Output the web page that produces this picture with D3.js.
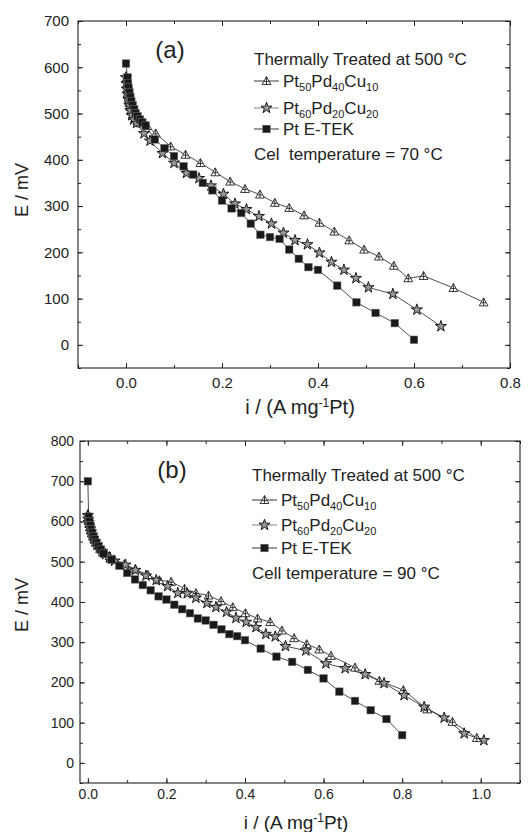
<!DOCTYPE html>
<html>
<head>
<meta charset="utf-8">
<script src="https://d3js.org/d3.v7.min.js"></script>
<style>
body { margin: 0; background: #fff; }
svg text { font-family: "Liberation Sans", Arial, sans-serif; fill: #222; }
</style>
</head>
<body>
<svg width="532" height="832"></svg>
<script>
// ---- panel (a): cell at 70 °C ----
var aTriI = [0, 0.001, 0.002, 0.003, 0.005, 0.007, 0.009, 0.012, 0.015, 0.019, 0.024, 0.03, 0.044, 0.062, 0.093, 0.124, 0.155, 0.186, 0.217, 0.248, 0.279, 0.31, 0.34, 0.371, 0.403, 0.434, 0.465, 0.496, 0.527, 0.558, 0.588, 0.62, 0.682, 0.745];
var aTriE = [575, 563, 553, 543, 533, 523, 514, 505, 497, 490, 484, 479, 473, 457, 429, 411, 393, 373, 353, 337, 325, 307, 296, 280, 264, 245, 226, 206, 191, 171, 144, 149, 123, 92];
var aStarI = [0, 0.001, 0.002, 0.003, 0.005, 0.007, 0.009, 0.012, 0.016, 0.022, 0.0375, 0.05, 0.076, 0.1, 0.126, 0.152, 0.177, 0.203, 0.227, 0.251, 0.277, 0.303, 0.328, 0.352, 0.378, 0.403, 0.428, 0.454, 0.479, 0.505, 0.556, 0.606, 0.656];
var aStarE = [578, 565, 553, 542, 530, 518, 507, 496, 487, 479, 457, 441, 414, 393, 371, 360, 344, 326, 305, 293, 278, 262, 242, 226, 217, 199, 179, 162, 144, 124, 110, 76, 40];
var aSqI = [0, 0.003, 0.004, 0.005, 0.007, 0.009, 0.011, 0.014, 0.017, 0.02, 0.024, 0.029, 0.034, 0.041, 0.06, 0.08, 0.1, 0.12, 0.14, 0.16, 0.18, 0.2, 0.22, 0.24, 0.26, 0.28, 0.3, 0.32, 0.34, 0.36, 0.38, 0.4, 0.44, 0.48, 0.52, 0.56, 0.6];
var aSqE = [608, 578, 566, 556, 546, 536, 527, 518, 509, 501, 494, 487, 481, 474, 444, 425, 408, 386, 368, 350, 334, 312, 295, 285, 262, 238, 233, 229, 206, 186, 168, 162, 128, 92, 69, 47, 11];

// ---- panel (b): cell at 90 °C ----
var bTriI = [0, 0.001, 0.002, 0.004, 0.006, 0.008, 0.011, 0.014, 0.018, 0.023, 0.029, 0.036, 0.045, 0.055, 0.067, 0.093, 0.121, 0.153, 0.182, 0.212, 0.246, 0.275, 0.307, 0.339, 0.369, 0.401, 0.432, 0.464, 0.494, 0.525, 0.557, 0.589, 0.619, 0.68, 0.742, 0.803, 0.864, 0.928, 0.99];
var bTriE = [618, 610, 602, 594, 586, 578, 570, 562, 554, 546, 538, 530, 522, 514, 506, 494, 481, 467, 454, 450, 433, 422, 416, 402, 387, 372, 359, 350, 329, 310, 295, 282, 266, 237, 204, 181, 133, 102, 62];
var bStarI = [0, 0.001, 0.002, 0.004, 0.006, 0.008, 0.011, 0.014, 0.018, 0.023, 0.029, 0.036, 0.045, 0.055, 0.068, 0.096, 0.121, 0.148, 0.174, 0.203, 0.229, 0.253, 0.275, 0.303, 0.326, 0.353, 0.377, 0.403, 0.428, 0.453, 0.477, 0.503, 0.555, 0.606, 0.655, 0.706, 0.754, 0.805, 0.856, 0.907, 0.958, 1.008];
var bStarE = [615, 606, 598, 590, 582, 574, 566, 558, 550, 542, 534, 526, 518, 510, 502, 492, 479, 465, 454, 439, 422, 421, 410, 397, 387, 375, 360, 350, 337, 320, 314, 290, 279, 247, 235, 220, 198, 168, 139, 112, 73, 56];
var bSqI = [0, 0.002, 0.004, 0.006, 0.008, 0.011, 0.014, 0.018, 0.022, 0.027, 0.033, 0.04, 0.06, 0.08, 0.1, 0.12, 0.14, 0.16, 0.18, 0.2, 0.22, 0.24, 0.26, 0.28, 0.3, 0.32, 0.34, 0.36, 0.38, 0.4, 0.44, 0.48, 0.52, 0.56, 0.6, 0.64, 0.68, 0.72, 0.76, 0.8];
var bSqE = [700, 612, 600, 590, 581, 572, 563, 555, 547, 539, 530, 520, 505, 490, 472, 456, 442, 429, 414, 406, 393, 382, 372, 359, 354, 343, 332, 320, 315, 305, 284, 264, 251, 231, 210, 177, 154, 131, 109, 69];

// tick labels
var aXTicks = [0, 0.2, 0.4, 0.6, 0.8];
var aYTicks = [0, 100, 200, 300, 400, 500, 600, 700];
var bXTicks = [0, 0.2, 0.4, 0.6, 0.8, 1.0];
var bYTicks = [0, 100, 200, 300, 400, 500, 600, 700, 800];

var svg = d3.select("svg");

function triPath(h) {
  var w = h * 1.0, b = h * 0.8;
  return "M0," + (-h) + "L" + w + "," + b + "L" + (-w) + "," + b + "Z" +
    "M0," + (-h) + "L0," + b + "M" + (-w * 0.55) + "," + (h * 0.1) + "L" + (w * 0.55) + "," + (h * 0.1);
}
var starPath = d3.symbol(d3.symbolStar).size(38)();

function drawMarker(g, kind) {
  if (kind == "tri") {
    g.append("path").attr("d", triPath(4.4)).attr("fill", "#fff").attr("stroke", "#222").attr("stroke-width", 0.9);
  } else if (kind == "star") {
    g.append("path").attr("d", starPath).attr("fill", "#999").attr("stroke", "#1a1a1a").attr("stroke-width", 1);
  } else {
    g.append("rect").attr("x", -3.8).attr("y", -3.8).attr("width", 7.6).attr("height", 7.6)
      .attr("fill", "#1a1a1a").attr("stroke", "#777").attr("stroke-width", 0.5);
  }
}

function panel(o) {
  var x = d3.scaleLinear().domain(o.xDom).range([o.l, o.r]),
      y = d3.scaleLinear().domain(o.yDom).range([o.b, o.t]);
  var g = svg.append("g");

  var xMinor = d3.range(Math.ceil(o.xDom[0] * 10), Math.floor(o.xDom[1] * 10) + 1).map(function(v) { return v / 10; });
  var yMinor = d3.range(Math.ceil(o.yDom[0] / 50), Math.floor(o.yDom[1] / 50) + 1).map(function(v) { return v * 50; });
  var blank = function() { return ""; };

  var ax = [
    [d3.axisBottom, x, "translate(0," + o.b + ")", o.xTicks, xMinor, d3.format(".1f"), o.xPad],
    [d3.axisTop, x, "translate(0," + o.t + ")", o.xTicks, xMinor, blank, 0],
    [d3.axisLeft, y, "translate(" + o.l + ",0)", o.yTicks, yMinor, d3.format("d"), o.yPad],
    [d3.axisRight, y, "translate(" + o.r + ",0)", o.yTicks, yMinor, blank, 0]
  ];
  ax.forEach(function(s) {
    var sg = g.append("g").attr("transform", s[2]);
    sg.append("g").call(s[0](s[1]).tickValues(s[4]).tickSize(-3).tickFormat(blank));
    sg.append("g").call(s[0](s[1]).tickValues(s[3]).tickSize(-5).tickPadding(s[6]).tickFormat(s[5]));
  });
  g.selectAll(".domain").remove();
  g.selectAll(".tick line").attr("stroke", "#222");
  g.selectAll(".tick text").attr("font-size", o.fs).attr("fill", "#222")
    .attr("font-family", "Liberation Sans, Arial, sans-serif");

  g.append("rect").attr("x", o.l).attr("y", o.t).attr("width", o.r - o.l).attr("height", o.b - o.t)
    .attr("fill", "none").attr("stroke", "#222").attr("stroke-width", 1.1);

  var line = d3.line().x(function(d) { return x(d[0]); }).y(function(d) { return y(d[1]); });
  o.series.forEach(function(s) {
    var pts = d3.zip(s.i, s.E);
    g.append("path").attr("d", line(pts)).attr("fill", "none").attr("stroke", "#222").attr("stroke-width", 0.8);
  });
  o.series.forEach(function(s) {
    var pts = d3.zip(s.i, s.E);
    g.selectAll(null).data(pts).enter().append("g")
      .attr("transform", function(d) { return "translate(" + x(d[0]) + "," + y(d[1]) + ")"; })
      .each(function() { drawMarker(d3.select(this), s.kind); });
  });

  // panel letter
  g.append("text").attr("x", o.letter[0]).attr("y", o.letter[1]).attr("text-anchor", "middle")
    .attr("font-size", 24).text(o.label);

  // legend
  var fsL = 17;
  var lg = g.append("g").attr("font-size", fsL);
  lg.append("text").attr("x", o.leg[0]).attr("y", o.leg[1]).text("Thermally Treated at 500 °C");
  var names = [["Pt", "50", "Pd", "40", "Cu", "10"], ["Pt", "60", "Pd", "20", "Cu", "20"], ["Pt E-TEK"]];
  o.series.forEach(function(s, k) {
    var yy = o.legRows[k];
    lg.append("line").attr("x1", o.leg[0]).attr("x2", o.leg[0] + 25).attr("y1", yy - 6).attr("y2", yy - 6)
      .attr("stroke", k == 1 ? "#777" : "#222").attr("stroke-width", 0.9);
    var mg = lg.append("g").attr("transform", "translate(" + (o.leg[0] + 12.5) + "," + (yy - 6) + ")");
    drawMarker(mg, s.kind);
    var t = lg.append("text").attr("x", o.leg[0] + 29).attr("y", yy);
    names[k].forEach(function(part, j) {
      var sub = j % 2 == 1;
      t.append("tspan").attr("font-size", sub ? 11 : fsL).attr("dy", sub ? 4 : (j > 0 ? -4 : 0)).text(part);
    });
  });
  lg.append("text").attr("x", o.leg[0]).attr("y", o.legRows[3]).style("white-space", "pre").text(o.cellText);

  // axis titles
  g.append("text").attr("transform", "translate(" + o.yTitle[0] + "," + o.yTitle[1] + ") rotate(-90)")
    .attr("text-anchor", "middle").attr("font-size", 18).text("E / mV");
  var xt = g.append("text").attr("x", o.xTitle[0]).attr("y", o.xTitle[1]).attr("text-anchor", "middle").attr("font-size", o.xtFs);
  xt.append("tspan").text("i / (A mg");
  xt.append("tspan").attr("font-size", 12).attr("dy", -7).text("-1");
  xt.append("tspan").attr("dy", 7).text("Pt)");
}

panel({
  l: 78, r: 510, t: 21, b: 368,
  xDom: [-0.1, 0.8], yDom: [-50, 700],
  xTicks: aXTicks, yTicks: aYTicks, xPad: 9, yPad: 9, fs: 15,
  series: [
    {kind: "tri", i: aTriI, E: aTriE},
    {kind: "star", i: aStarI, E: aStarE},
    {kind: "sq", i: aSqI, E: aSqE}
  ],
  label: "(a)", letter: [170, 58],
  leg: [254, 65], legRows: [87, 114, 135, 160],
  cellText: "Cel  temperature = 70 °C",
  yTitle: [28, 190], xTitle: [300, 414], xtFs: 20
});

panel({
  l: 80, r: 520, t: 441, b: 783,
  xDom: [-0.02, 1.1], yDom: [-50, 800],
  xTicks: bXTicks, yTicks: bYTicks, xPad: 6, yPad: 6, fs: 14,
  series: [
    {kind: "tri", i: bTriI, E: bTriE},
    {kind: "star", i: bStarI, E: bStarE},
    {kind: "sq", i: bSqI, E: bSqE}
  ],
  label: "(b)", letter: [172, 478],
  leg: [252, 481], legRows: [506, 531, 554, 579],
  cellText: "Cell temperature = 90 °C",
  yTitle: [28, 605], xTitle: [296, 829], xtFs: 19
});
</script>
</body>
</html>
